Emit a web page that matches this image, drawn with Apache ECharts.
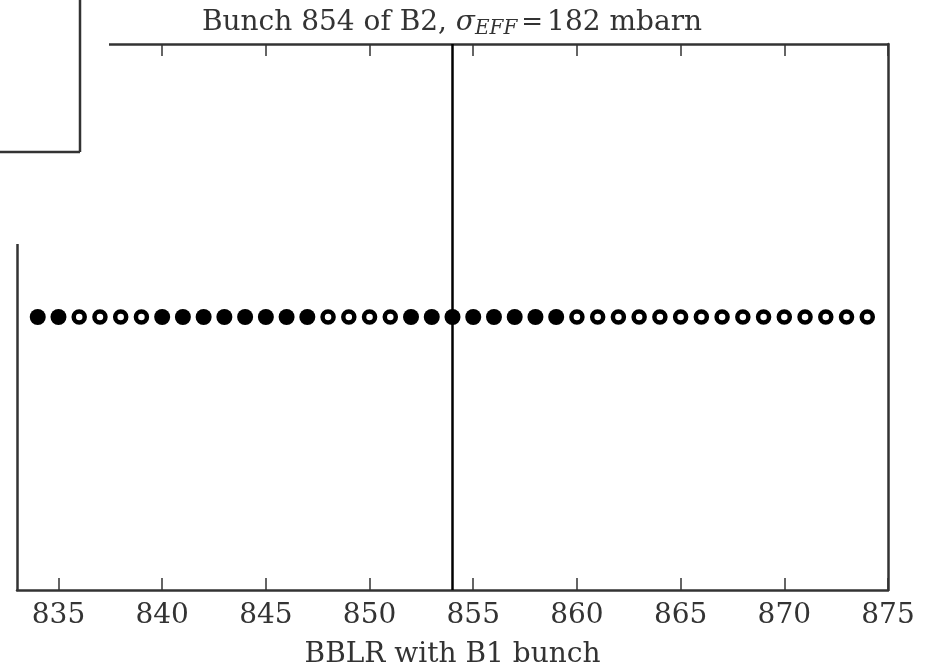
<!DOCTYPE html>
<html>
<head>
<meta charset="utf-8">
<title>Bunch 854 of B2</title>
<script src="https://cdn.jsdelivr.net/npm/echarts@6/dist/echarts.min.js"></script>
<style>
  html, body { margin: 0; padding: 0; background: #fff; }
  #box { width: 932px; height: 671px; }
</style>
</head>
<body>
<div id="box"></div>
<script>
// BBLR partners of bunch 854 (B2) with B1 bunches
var filledBunches = [834, 835, 840, 841, 842, 843, 844, 845, 846, 847, 852, 853, 854, 855, 856, 857, 858, 859]
var openBunches = [836, 837, 838, 839, 848, 849, 850, 851, 860, 861, 862, 863, 864, 865, 866, 867, 868, 869, 870, 871, 872, 873, 874]
var xTicks = [835, 840, 845, 850, 855, 860, 865, 870, 875]
var xMin = 833
var xMax = 875
var thisBunch = 854
var sigmaEff = 182

var font = 'DejaVu Serif'
var spine = '#333'

var myChart = echarts.init(document.getElementById('box'))

var axisBase = {
  type: 'value',
  min: xMin,
  max: xMax,
  splitLine: { show: false },
  axisLine: { show: true, onZero: false, lineStyle: { color: spine, width: 2.5 } },
  axisTick: { show: true, inside: true, length: 12, customValues: xTicks, lineStyle: { color: spine, width: 1.5 } }
}

myChart.setOption({
  animation: false,
  grid: { left: 17, right: 44, top: 44, bottom: 81, outerBoundsMode: 'none' },
  xAxis: [
    Object.assign({}, axisBase, {
      position: 'bottom',
      name: 'BBLR with B1 bunch',
      nameLocation: 'middle',
      nameGap: 51,
      nameTextStyle: { fontFamily: font, fontSize: 28, color: spine },
      axisLabel: { show: true, customValues: xTicks, margin: 12, fontFamily: font, fontSize: 28, color: spine }
    }),
    Object.assign({}, axisBase, {
      position: 'top',
      axisLabel: { show: false }
    })
  ],
  yAxis: [
    {
      type: 'value', min: -1, max: 1, position: 'left',
      axisLine: { show: true, lineStyle: { color: spine, width: 2.5 } },
      axisTick: { show: false }, axisLabel: { show: false }, splitLine: { show: false }
    },
    {
      type: 'value', min: -1, max: 1, position: 'right',
      axisLine: { show: true, lineStyle: { color: spine, width: 2.5 } },
      axisTick: { show: false }, axisLabel: { show: false }, splitLine: { show: false }
    }
  ],
  series: [
    {
      type: 'scatter',
      symbol: 'circle',
      symbolSize: 16,
      itemStyle: { color: '#000', opacity: 1 },
      data: filledBunches.map(function (b) { return [b, 0] }),
      markLine: {
        silent: true,
        symbol: ['none', 'none'],
        label: { show: false },
        lineStyle: { color: '#000', width: 2.5, type: 'solid' },
        data: [{ xAxis: thisBunch }]
      },
      z: 3
    },
    {
      type: 'scatter',
      symbol: 'circle',
      symbolSize: 11,
      itemStyle: { color: '#fff', borderColor: '#000', borderWidth: 4.5, opacity: 1 },
      data: openBunches.map(function (b) { return [b, 0] }),
      z: 3
    }
  ],
  graphic: [
    // legend frame that hides the top-left corner of the axes
    { type: 'rect', shape: { x: 0, y: 0, width: 109, height: 244 }, style: { fill: '#fff' }, z: 100 },
    { type: 'line', shape: { x1: 80, y1: 0, x2: 80, y2: 152 }, style: { stroke: spine, lineWidth: 2.5 }, z: 101 },
    { type: 'line', shape: { x1: 0, y1: 152, x2: 80, y2: 152 }, style: { stroke: spine, lineWidth: 2.5 }, z: 101 },
    {
      type: 'text',
      x: 452,
      y: 7,
      z: 101,
      style: {
        text: 'Bunch ' + thisBunch + ' of B2, {sig|σ}{sub|EFF}{eq|=}' + sigmaEff + ' mbarn',
        align: 'center',
        fontFamily: font,
        fontSize: 28,
        fill: spine,
        rich: {
          sig: { fontFamily: font, fontSize: 28, fontStyle: 'italic', fill: spine },
          sub: { fontFamily: font, fontSize: 20, fontStyle: 'italic', fill: spine, padding: [12, 0, 0, 0] },
          eq: { fontFamily: font, fontSize: 26, fill: spine, padding: [0, 4, 0, 4] }
        }
      }
    }
  ]
})

window.addEventListener('resize', function () {
  myChart.resize()
})
</script>
</body>
</html>
